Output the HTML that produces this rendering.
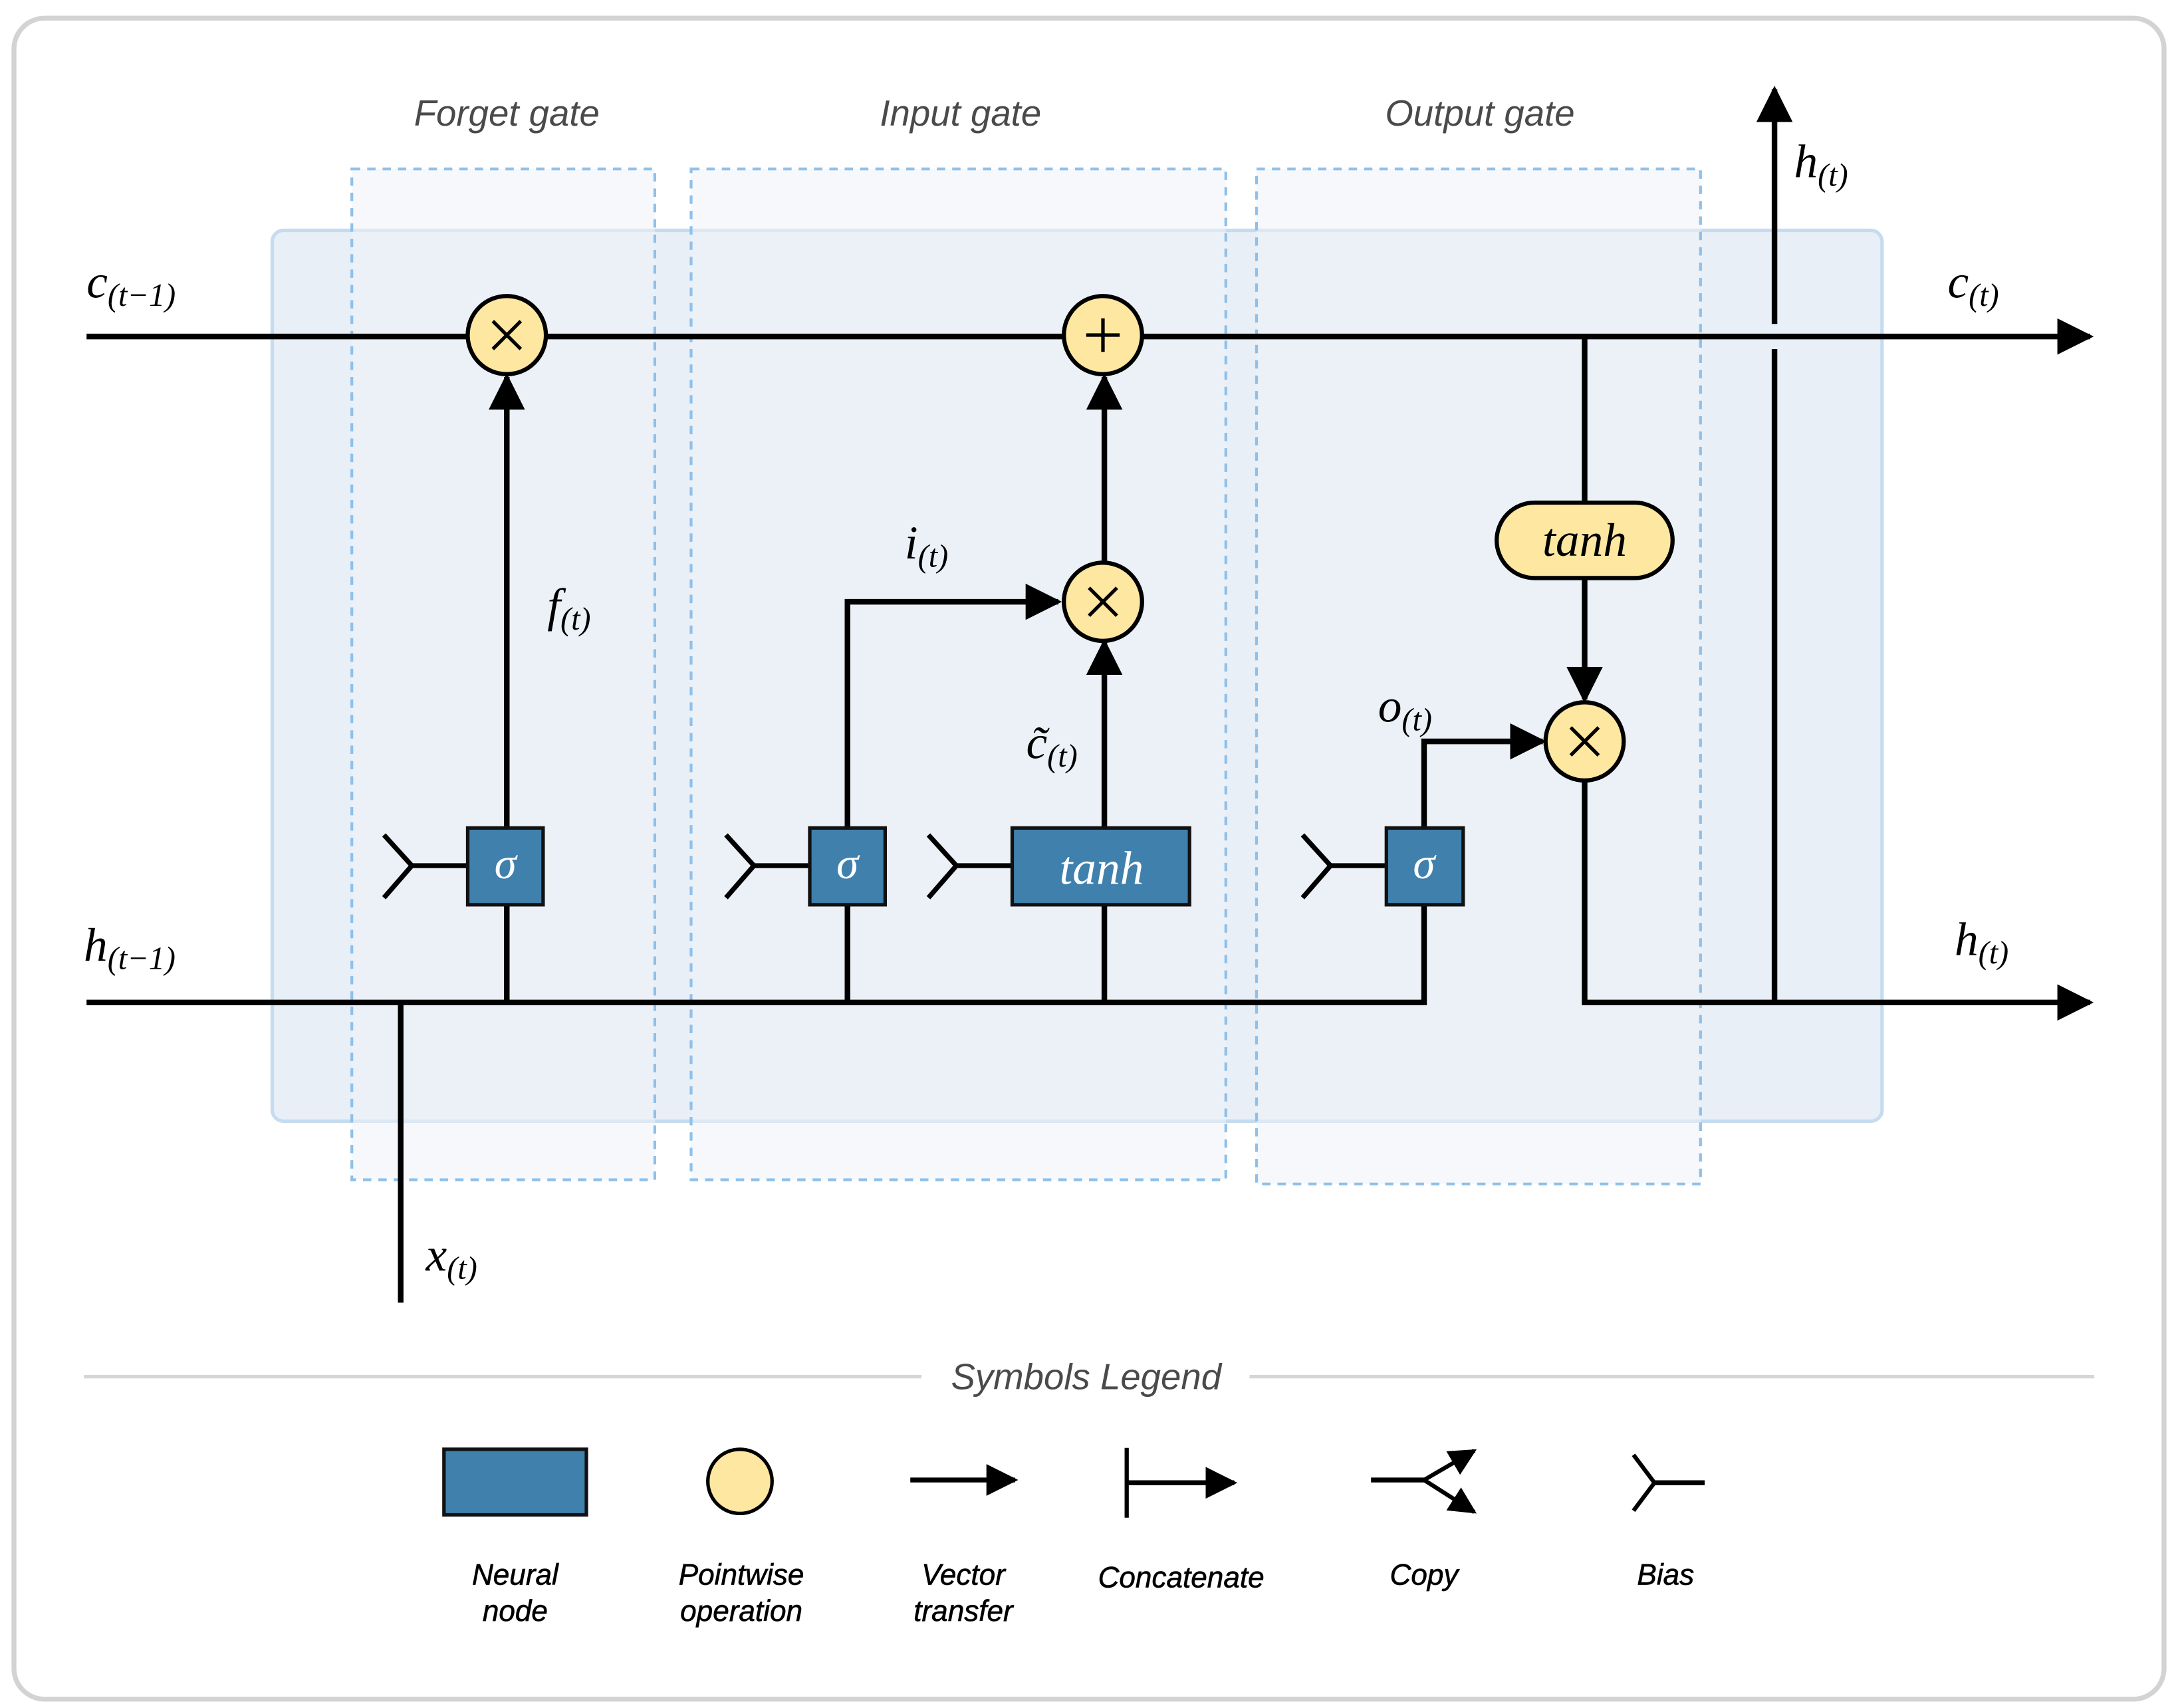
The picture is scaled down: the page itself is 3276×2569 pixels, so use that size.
<!DOCTYPE html>
<html><head><meta charset="utf-8"><style>
html,body{margin:0;padding:0;background:#fff}
svg{display:block}
.m{font-family:"Liberation Serif",serif;font-style:italic;fill:#000}
.g{font-family:"Liberation Sans",sans-serif;font-style:italic;fill:#4a4a4a;font-size:26px}
.l{font-family:"Liberation Sans",sans-serif;font-style:italic;fill:#000;font-size:21px;text-anchor:middle;stroke:#000;stroke-width:0.3}
</style></head><body>
<svg width="3276" height="2569" viewBox="0 0 1560 1223.3" xmlns="http://www.w3.org/2000/svg">
<defs>
<marker id="a" viewBox="0 0 10 10" refX="9" refY="5" markerWidth="6.5" markerHeight="7" orient="auto" markerUnits="strokeWidth"><path d="M0,0 L10,5 L0,10 z" fill="#000"/></marker>
</defs>
<rect x="10" y="13" width="1540" height="1204" rx="22" fill="#fff" stroke="#d3d3d3" stroke-width="3.5"/>
<rect x="195" y="165" width="1153" height="638" rx="8" fill="#e9eff6" stroke="#c5dcf0" stroke-width="2.5"/>
<g fill="#eef3f8" fill-opacity="0.55" stroke="#8ec0ea" stroke-width="2" stroke-dasharray="6,5">
<rect x="252" y="121" width="217" height="724"/>
<rect x="495" y="121" width="383" height="724"/>
<rect x="900" y="121" width="318" height="727"/>
</g>
<text class="g" x="363" y="90" text-anchor="middle">Forget gate</text>
<text class="g" x="688" y="90" text-anchor="middle">Input gate</text>
<text class="g" x="1060" y="90" text-anchor="middle">Output gate</text>

<g stroke="#000" stroke-width="4" fill="none">
<line x1="62" y1="241" x2="1497" y2="241" marker-end="url(#a)"/>
<polyline points="62,718 1020,718 1020,620"/>
<line x1="287" y1="718" x2="287" y2="933"/>
<line x1="363" y1="718" x2="363" y2="620"/>
<line x1="607" y1="718" x2="607" y2="620"/>
<line x1="791" y1="718" x2="791" y2="620"/>
<line x1="363" y1="593" x2="363" y2="270" marker-end="url(#a)"/>
<polyline points="607,593 607,431 758,431" marker-end="url(#a)"/>
<line x1="791" y1="593" x2="791" y2="460" marker-end="url(#a)"/>
<line x1="791" y1="403" x2="791" y2="270" marker-end="url(#a)"/>
<line x1="1135" y1="241" x2="1135" y2="360"/>
<line x1="1135" y1="414" x2="1135" y2="501" marker-end="url(#a)"/>
<polyline points="1020,593 1020,531 1105,531" marker-end="url(#a)"/>
<polyline points="1135,560 1135,718 1497,718" marker-end="url(#a)"/>
<line x1="1271" y1="718" x2="1271" y2="250"/>
<line x1="1271" y1="232" x2="1271" y2="64" marker-end="url(#a)"/>
<g stroke-width="3.5">
<polyline points="275,598 295,620 275,643"/><line x1="295" y1="620" x2="335" y2="620"/>
<polyline points="520,598 540,620 520,643"/><line x1="540" y1="620" x2="580" y2="620"/>
<polyline points="665,598 685,620 665,643"/><line x1="685" y1="620" x2="725" y2="620"/>
<polyline points="933,598 953,620 933,643"/><line x1="953" y1="620" x2="993" y2="620"/>
</g>
</g>
<g fill="#3f80ad" stroke="#111" stroke-width="2.5">
<rect x="335" y="593" width="54" height="55"/>
<rect x="580" y="593" width="54" height="55"/>
<rect x="725" y="593" width="127" height="55"/>
<rect x="993" y="593" width="55" height="55"/>
</g>
<g class="m" font-size="32" text-anchor="middle">
<text x="362" y="629" style="fill:#fff">σ</text>
<text x="607" y="629" style="fill:#fff">σ</text>
<text x="789" y="633" style="fill:#fff" font-size="34">tanh</text>
<text x="1020" y="629" style="fill:#fff">σ</text>
</g>
<g fill="#fee7a0" stroke="#000" stroke-width="3">
<circle cx="363" cy="240" r="28"/>
<circle cx="790" cy="240" r="28"/>
<circle cx="790" cy="431" r="28"/>
<circle cx="1135" cy="531" r="28"/>
<rect x="1072" y="360" width="126" height="54" rx="27"/>
</g>
<g stroke="#000" stroke-width="2.5">
<path d="M353,230 L373,250 M373,230 L353,250"/>
<path d="M780,421 L800,441 M800,421 L780,441"/>
<path d="M1125,521 L1145,541 M1145,521 L1125,541"/>
<path d="M790,228 V252 M778,240 H802"/>
</g>
<text class="m" x="1135" y="398" font-size="34" text-anchor="middle">tanh</text>
<g class="m" font-size="34">
<text x="62" y="213">c<tspan font-size="23" dy="6">(t−1)</tspan></text>
<text x="60" y="688">h<tspan font-size="23" dy="6">(t−1)</tspan></text>
<text x="1395" y="213">c<tspan font-size="23" dy="6">(t)</tspan></text>
<text x="1400" y="684">h<tspan font-size="23" dy="6">(t)</tspan></text>
<text x="1285" y="127">h<tspan font-size="23" dy="6">(t)</tspan></text>
<text x="392" y="445">f<tspan font-size="23" dy="6">(t)</tspan></text>
<text x="648" y="400">i<tspan font-size="23" dy="6">(t)</tspan></text>
<text x="735" y="543">c̃<tspan font-size="23" dy="6">(t)</tspan></text>
<text x="987" y="517">o<tspan font-size="23" dy="6">(t)</tspan></text>
<text x="305" y="910">x<tspan font-size="23" dy="6">(t)</tspan></text>
</g>
<line x1="60" y1="986" x2="660" y2="986" stroke="#d6d6d6" stroke-width="2.5"/>
<line x1="895" y1="986" x2="1500" y2="986" stroke="#d6d6d6" stroke-width="2.5"/>
<text class="g" x="778" y="995" text-anchor="middle">Symbols Legend</text>
<rect x="318" y="1038" width="102" height="47" fill="#3f80ad" stroke="#111" stroke-width="2.5"/>
<circle cx="530" cy="1061" r="23" fill="#fee7a0" stroke="#000" stroke-width="2.5"/>
<g stroke="#000" stroke-width="3.5" fill="none">
<line x1="652" y1="1060" x2="727" y2="1060" marker-end="url(#a)"/>
<line x1="807" y1="1037" x2="807" y2="1087" stroke-width="3"/>
<line x1="807" y1="1062" x2="884" y2="1062" marker-end="url(#a)"/>
<polyline points="982,1060 1020,1060"/>
<line x1="1020" y1="1060" x2="1056" y2="1039" marker-end="url(#a)" stroke-width="3"/>
<line x1="1020" y1="1060" x2="1056" y2="1083" marker-end="url(#a)" stroke-width="3"/>
<polyline points="1170,1042 1185,1062 1170,1082" stroke-width="3"/>
<line x1="1185" y1="1062" x2="1221" y2="1062"/>
</g>
<text class="l" x="369" y="1135">Neural</text><text class="l" x="369" y="1161">node</text>
<text class="l" x="531" y="1135">Pointwise</text><text class="l" x="531" y="1161">operation</text>
<text class="l" x="690" y="1135">Vector</text><text class="l" x="690" y="1161">transfer</text>
<text class="l" x="846" y="1137">Concatenate</text>
<text class="l" x="1020" y="1135">Copy</text>
<text class="l" x="1193" y="1135">Bias</text>
</svg>
</body></html>
